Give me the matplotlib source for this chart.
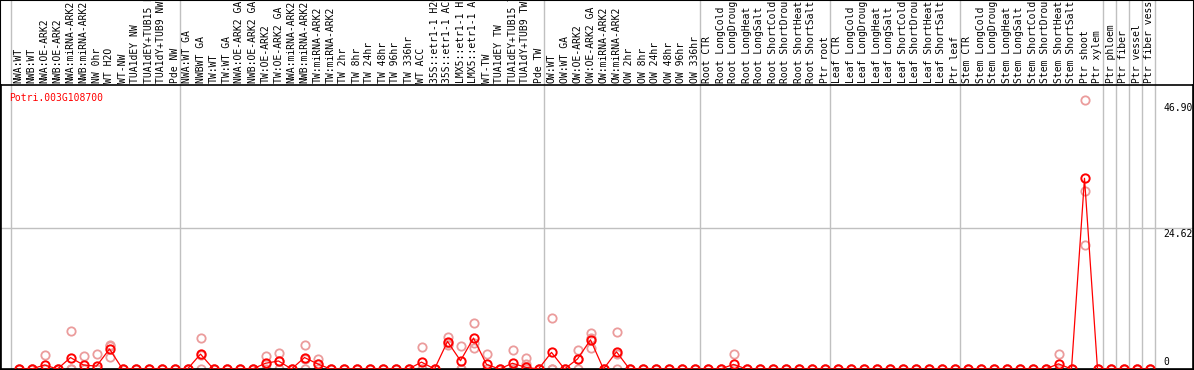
import numpy as np
import matplotlib
matplotlib.use('Agg')
import matplotlib.pyplot as plt
import matplotlib.transforms as mtransforms
from matplotlib.patches import Rectangle

gene = "Potri.003G108700"

samples = ["NWA:WT", "NWB:WT", "NWA:OE-ARK2", "NWB:OE-ARK2", "NWA:miRNA-ARK2",
           "NWB:miRNA-ARK2", "NW 0hr", "WT H2O", "WT-NW", "TUA1dEY NW",
           "TUA1dEY+TUB15 NW", "TUA1dY+TUB9 NW", "Pde NW",
           "NWA:WT GA", "NWBWT GA", "TW:WT", "TW:WT GA", "NWA:OE-ARK2 GA",
           "NWB:OE-ARK2 GA", "TW:OE-ARK2", "TW:OE-ARK2 GA", "NWA:miRNA-ARK2",
           "NWB:miRNA-ARK2", "TW:miRNA-ARK2", "TW:miRNA-ARK2", "TW 2hr", "TW 8hr",
           "TW 24hr", "TW 48hr", "TW 96hr", "TW 336hr", "WT ACC", "35S::etr1-1 H2O",
           "35S::etr1-1 ACC", "LMX5::etr1-1 H2O", "LMX5::etr1-1 ACC", "WT-TW",
           "TUA1dEY TW", "TUA1dEY+TUB15 TW", "TUA1dY+TUB9 TW", "Pde TW",
           "OW:WT", "OW:WT GA", "OW:OE-ARK2", "OW:OE-ARK2 GA", "OW:miRNA-ARK2",
           "OW:miRNA-ARK2", "OW 2hr", "OW 8hr", "OW 24hr", "OW 48hr", "OW 96hr",
           "OW 336hr",
           "Root CTR", "Root LongCold", "Root LongDrought", "Root LongHeat",
           "Root LongSalt", "Root ShortCold", "Root ShortDrought", "Root ShortHeat",
           "Root ShortSalt", "Ptr root",
           "Leaf CTR", "Leaf LongCold", "Leaf LongDrought", "Leaf LongHeat",
           "Leaf LongSalt", "Leaf ShortCold", "Leaf ShortDrought", "Leaf ShortHeat",
           "Leaf ShortSalt", "Ptr leaf",
           "Stem CTR", "Stem LongCold", "Stem LongDrought", "Stem LongHeat",
           "Stem LongSalt", "Stem ShortCold", "Stem ShortDrought", "Stem ShortHeat",
           "Stem ShortSalt", "Ptr shoot", "Ptr xylem", "Ptr phloem", "Ptr fiber",
           "Ptr vessel", "Ptr fiber vessel"]

# index of first sample after each separator line
group_starts = [0, 13, 41, 53, 63, 73, 84, 85, 86, 87, 88]

# mean expression (dark line)
mean_vals = {2: 0.7, 4: 2.0, 5: 0.7, 6: 0.5, 7: 3.5, 14: 2.6, 19: 1.0, 20: 1.4,
             22: 2.0, 23: 0.9, 31: 1.2, 33: 4.8, 34: 1.45, 35: 5.4, 36: 0.8,
             38: 1.0, 39: 0.3, 41: 2.9, 43: 1.75, 44: 5.1, 46: 3.0, 55: 0.8,
             80: 0.9, 82: 33.3}

# replicate values (pale circles)
rep1 = {2: 2.4, 4: 6.6, 5: 2.2, 6: 2.6, 7: 4.1, 14: 5.4, 19: 2.2, 20: 2.8,
        22: 4.2, 23: 1.8, 31: 3.9, 33: 5.6, 34: 4.1, 35: 8.0, 36: 2.6, 38: 3.4,
        39: 1.9, 41: 8.85, 43: 3.4, 44: 6.3, 46: 6.4, 55: 2.7, 80: 2.7, 82: 46.90}
rep2 = {7: 2.1, 14: 2.4, 19: 0.8, 20: 1.4, 22: 1.8, 23: 0.9, 33: 4.6, 35: 3.6,
        39: 0.9, 43: 1.8, 44: 3.6, 46: 2.6, 82: 31.1}
rep3 = {7: 4.2, 33: 4.2, 35: 4.6, 44: 5.4, 82: 21.6}

axis_labels = [0, 24.62, 46.90]

n = len(samples)
x = np.arange(n)
mean = np.array([mean_vals.get(i, 0.0) for i in range(n)])
reps = [np.array([r.get(i, 0.0) for i in range(n)]) for r in (rep1, rep2, rep3)]

fig = plt.figure(figsize=(11.94, 3.70), dpi=100)
W, H = 1194, 370
ax = fig.add_axes([1 / W, 1 / H, 1192 / W, 284 / H])

px = 13.0
x0 = (1 - 18.5) / px
ax.set_xlim(x0, x0 + 1192 / px)
ax.set_ylim(0, 284 / 5.727)

for r in reps:
    ax.plot(x, r, linestyle='none', marker='o', markersize=6, mfc='none',
            mec='#eb9c9c', mew=1.3, zorder=2)
ax.plot(x, mean, color='red', lw=0.9, marker='o', markersize=6, mfc='none',
        mec='red', mew=1.4, zorder=3)

for g in group_starts:
    ax.axvline(g - 0.55, ymin=0, ymax=1.31, color='#c0c0c0', lw=1,
               clip_on=False, zorder=1)
ax.axhline(axis_labels[1], color='#c0c0c0', lw=1, zorder=1)

ax.set_xticks([])
ax.set_yticks([])
for s in ax.spines.values():
    s.set_color('black')
    s.set_linewidth(1.2)

trans = mtransforms.blended_transform_factory(ax.transData, ax.transAxes)
for i, lab in enumerate(samples):
    ax.text(i, 1 + 2 / 284, lab, rotation=90, ha='center', va='bottom',
            family='DejaVu Sans Mono', fontsize=7, transform=trans,
            clip_on=False)

ax.text(8 / 1192, 1 - 8 / 284, gene, color='red', family='DejaVu Sans Mono',
        fontsize=7, transform=ax.transAxes, ha='left', va='top')

lab_x = (1163 - 1) / 1192
tr2 = mtransforms.blended_transform_factory(ax.transAxes, ax.transData)
ax.text(lab_x, axis_labels[2] - 0.4, f"{axis_labels[2]:.2f}", family='DejaVu Sans Mono',
        fontsize=7, ha='left', va='top', transform=tr2)
ax.text(lab_x, axis_labels[1] - 0.2, f"{axis_labels[1]:.2f}", family='DejaVu Sans Mono',
        fontsize=7, ha='left', va='top', transform=tr2)
ax.text(lab_x, 0.3, "0", family='DejaVu Sans Mono',
        fontsize=7, ha='left', va='bottom', transform=tr2)

fig.patches.append(Rectangle((0, 0), 1, 1, transform=fig.transFigure,
                             fill=False, edgecolor='black', lw=1.5))

fig.savefig('out.png', dpi=100)
